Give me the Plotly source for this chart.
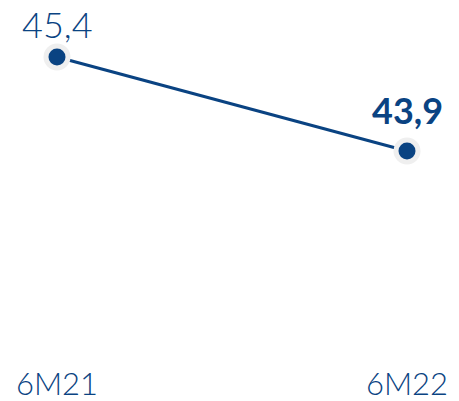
import plotly.graph_objects as go

categories = ["6M21", "6M22"]
values = [45.4, 43.9]
labels = ["45,4", "43,9"]

BLUE = "#0a4382"
FONT = "Lato"

x_pos = list(range(len(categories)))

fig = go.Figure()
fig.add_trace(go.Scatter(x=x_pos, y=values, mode="lines",
                         line=dict(color=BLUE, width=3), hoverinfo="skip"))
fig.add_trace(go.Scatter(x=x_pos, y=values, mode="markers",
                         marker=dict(size=27, color="#efefef"), hoverinfo="skip"))
fig.add_trace(go.Scatter(x=x_pos, y=values, mode="markers",
                         marker=dict(size=17, color=BLUE)))

shifts = [33, 41]
weights = [300, 700]
for i, (xv, yv, lab) in enumerate(zip(x_pos, values, labels)):
    fig.add_annotation(x=xv, y=yv, text=lab, showarrow=False, yshift=shifts[i],
                       font=dict(family=FONT, size=36, color=BLUE, weight=weights[i]))

fig.update_layout(
    width=451, height=393,
    margin=dict(l=0, r=0, t=0, b=38),
    paper_bgcolor="white", plot_bgcolor="white",
    showlegend=False,
)
fig.update_xaxes(range=[-49/350, 1 + 52/350], tickvals=x_pos, ticktext=categories,
                 showgrid=False, zeroline=False, showline=False, ticks="",
                 tickfont=dict(family=FONT, size=31, color=BLUE, weight=300))
fig.update_yaxes(range=[40.517, 46.182], visible=False)

fig.write_html("out.html")
